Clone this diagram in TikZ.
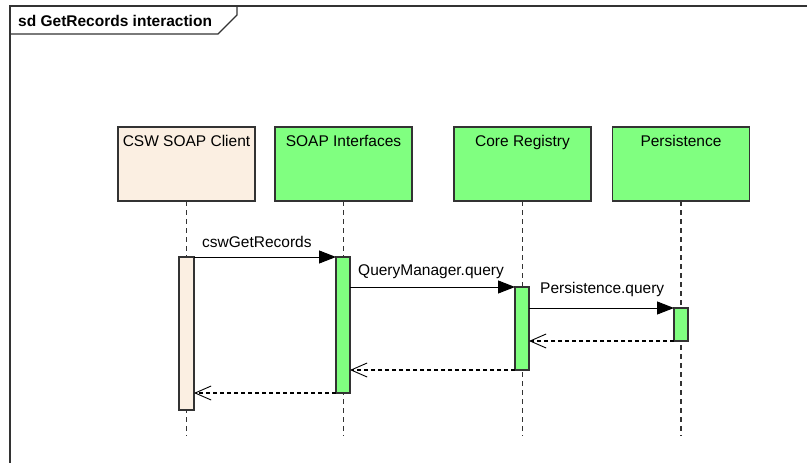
\documentclass[tikz,border=0pt]{standalone}
\usepackage{fontspec}
\setmainfont{Liberation Sans}
\usetikzlibrary{arrows.meta}
\definecolor{lifegreen}{HTML}{80FF80}
\definecolor{clientbeige}{HTML}{FBEFE2}
\definecolor{framegray}{HTML}{333333}

\begin{document}
\begin{tikzpicture}[x=1pt,y=-1pt,
  lifebox/.style={draw=framegray, line width=1.3pt, minimum width=137pt,
    minimum height=74pt, inner sep=0pt, outer sep=0pt, anchor=north},
  boxtitle/.style={anchor=base, inner sep=0pt, font=\fontsize{15.5}{18}\selectfont},
  msglabel/.style={anchor=base west, inner sep=0pt, font=\fontsize{15.5}{18}\selectfont},
  lifeline/.style={draw=framegray, line width=1.4pt, dash pattern=on 4.5pt off 4.5pt},
  actbar/.style={draw=framegray, line width=1.2pt, minimum width=14pt,
    inner sep=0pt, outer sep=0pt, anchor=north},
  call/.style={draw=black, line width=1pt, -{Triangle[length=17pt,width=13pt]}},
  reply/.style={draw=black, line width=1.1pt, dash pattern=on 4pt off 3pt,
    -{Straight Barb[length=16pt,width=14pt,line width=0.9pt]}},
]
\useasboundingbox[fill=white] (0,0) rectangle (807,463);

% interaction frame with its name tab
\draw[framegray, line width=1.5pt] (10,463) -- (10,6) -- (807,6);
\draw[framegray, line width=1.3pt] (10,34) -- (218,34) -- (237,15) -- (237,6);
\node[anchor=base west, inner sep=0pt, font=\fontsize{15.5}{18}\selectfont\bfseries]
  (title) at (18,27) {sd GetRecords interaction};

% lifeline heads
\node[lifebox, fill=clientbeige] (client) at (186.5,127) {};
\node[lifebox, fill=lifegreen]   (soap)   at (343.5,127) {};
\node[lifebox, fill=lifegreen]   (core)   at (522.5,127) {};
\node[lifebox, fill=lifegreen]   (pers)   at (681,127) {};
\node[boxtitle] (clientT) at ([yshift=-19.5pt]client.north) {CSW SOAP Client};
\node[boxtitle] (soapT)   at ([yshift=-19.5pt]soap.north)   {SOAP Interfaces};
\node[boxtitle] (coreT)   at ([yshift=-19.5pt]core.north)   {Core Registry};
\node[boxtitle] (persT)   at ([yshift=-19.5pt]pers.north)   {Persistence};

% lifeline ends
\coordinate (clientEnd) at (186.5,436);
\coordinate (soapEnd)   at (343.5,436);
\coordinate (coreEnd)   at (522.5,436);
\coordinate (persEnd)   at (681,436);
\draw[lifeline] (client.south) -- (clientEnd);
\draw[lifeline] (soap.south)   -- (soapEnd);
\draw[lifeline] (core.south)   -- (coreEnd);
\draw[lifeline] (pers.south)   -- (persEnd);

% activation bars
\node[actbar, fill=clientbeige, minimum width=15pt, minimum height=153pt] (clientbar) at (186.5,257) {};
\node[actbar, fill=lifegreen, minimum height=136pt] (soapbar) at (343,257) {};
\node[actbar, fill=lifegreen, minimum height=83pt]  (corebar) at (522,287) {};
\node[actbar, fill=lifegreen, minimum height=33pt]  (persbar) at (681,308) {};

% calls
\draw[call] (clientbar.north east) -- (soapbar.north west);
\draw[call] (soapbar.east |- corebar.north) -- (corebar.north west);
\draw[call] (corebar.east |- persbar.north) -- (persbar.north west);
\node[msglabel] (m1) at (202,247) {cswGetRecords};
\node[msglabel] (m2) at (358,275) {QueryManager.query};
\node[msglabel] (m3) at (540,293) {Persistence.query};

% replies
\draw[reply] (persbar.south west) -- (corebar.east |- persbar.south);
\draw[reply] (corebar.south west) -- (soapbar.east |- corebar.south);
\draw[reply] (soapbar.south west) -- (clientbar.east |- soapbar.south);
\end{tikzpicture}
\end{document}
